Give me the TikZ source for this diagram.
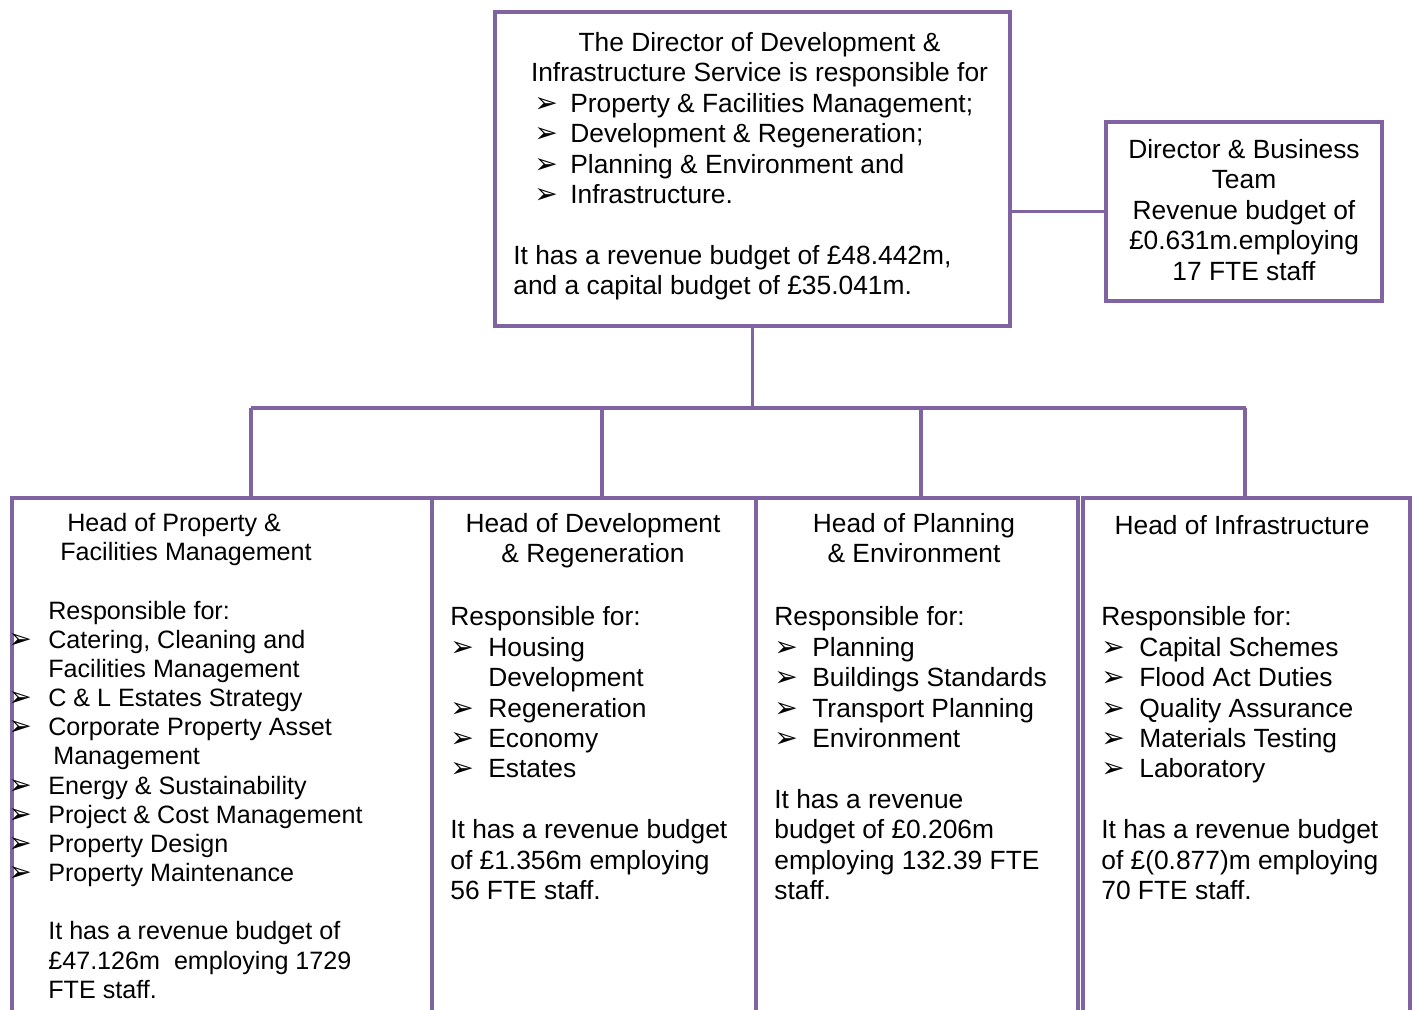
\documentclass[tikz,border=0pt]{standalone}
\usepackage{fontspec}
\setmainfont{Liberation Sans}
\newfontfamily\arrowfont{DejaVu Sans}
\usetikzlibrary{positioning,fit,calc}
\definecolor{orgPurple}{HTML}{8064A2}
\newcommand{\bul}[1][0.76cm]{\makebox[#1][l]{\arrowfont\fontsize{16}{16}\selectfont ➢}}
\tikzset{
  orgbox/.style={draw=orgPurple, line width=2.2pt, inner sep=0pt},
  orglink/.style={draw=orgPurple, line width=2pt},
  boxtext/.style={inner sep=0pt, align=left, anchor=north west,
                  font=\fontsize{15}{17.3}\selectfont, execute at begin node=\strut},
  headtext/.style={boxtext, align=center, anchor=north},
  smalltext/.style={boxtext, font=\fontsize{14.3}{16.6}\selectfont},
}

\begin{document}
\begin{tikzpicture}[x=0.02cm, y=-0.02cm]
\def\yBus{408}      % y-position of the branch line
\def\yHead{513}     % top of the head titles
\def\yBody{606.5}   % top of the head lists
\useasboundingbox (0,0) rectangle (1416,1010);
\clip (0,0) rectangle (1416,1010);

%% Director
\node[orgbox, fit={(495,12) (1010,326)}] (dir) {};
\node[headtext] (dirHead) at (759.5,32)
  {The Director of Development \&\\Infrastructure Service is responsible for};
\node[boxtext] (dirBody) at (513,93)
  {\hspace*{0.42cm}\bul[0.72cm]Property \& Facilities Management;\\
   \hspace*{0.42cm}\bul[0.72cm]Development \& Regeneration;\\
   \hspace*{0.42cm}\bul[0.72cm]Planning \& Environment and\\
   \hspace*{0.42cm}\bul[0.72cm]Infrastructure.\\[\baselineskip]
   It has a revenue budget of £48.442m,\\
   and a capital budget of £35.041m.};

%% Business team
\node[orgbox, fit={(1106,122) (1382,301)}] (biz) {};
\node[headtext] (bizText) at (1244,139)
  {Director \& Business\\Team\\Revenue budget of\\£0.631m.employing\\17 FTE staff};

%% Heads of service
\node[orgbox, fit={(12,498) (432,1040)}] (hdProp) {};
\node[orgbox, fit={(432,498) (756,1040)}] (hdDev) {};
\node[orgbox, fit={(756,498) (1078,1040)}] (hdPlan) {};
\node[orgbox, fit={(1083,498) (1410,1040)}] (hdInfra) {};

\node[smalltext] (propText) at (8,513)
  {\hspace*{1.18cm}Head of Property \&\\
   \hspace*{1.04cm}Facilities Management\\[\baselineskip]
   \hspace*{0.8cm}Responsible for:\\
   \bul[0.8cm]Catering, Cleaning and\\
   \hspace*{0.8cm}Facilities Management\\
   \bul[0.8cm]C \& L Estates Strategy\\
   \bul[0.8cm]Corporate Property Asset\\
   \hspace*{0.9cm}Management\\
   \bul[0.8cm]Energy \& Sustainability\\
   \bul[0.8cm]Project \& Cost Management\\
   \bul[0.8cm]Property Design\\
   \bul[0.8cm]Property Maintenance\\[\baselineskip]
   \hspace*{0.8cm}It has a revenue budget of\\
   \hspace*{0.8cm}£47.126m \ employing 1729\\
   \hspace*{0.8cm}FTE staff.};

\node[headtext] (devHead) at (593,\yHead) {Head of Development\\\& Regeneration};
\node[boxtext] (devText) at (450,\yBody)
  {Responsible for:\\
   \bul Housing\\
   \hspace*{0.76cm}Development\\
   \bul Regeneration\\
   \bul Economy\\
   \bul Estates\\[\baselineskip]
   It has a revenue budget\\
   of £1.356m employing\\
   56 FTE staff.};

\node[headtext] (planHead) at (914,\yHead) {Head of Planning\\\& Environment};
\node[boxtext] (planText) at (774,\yBody)
  {Responsible for:\\
   \bul Planning\\
   \bul Buildings Standards\\
   \bul Transport Planning\\
   \bul Environment\\[\baselineskip]
   It has a revenue\\
   budget of £0.206m\\
   employing 132.39 FTE\\
   staff.};

\node[headtext] (infraHead) at (1242,\yHead) {Head of Infrastructure};
\node[boxtext] (infraText) at (1101,\yBody)
  {Responsible for:\\
   \bul Capital Schemes\\
   \bul Flood Act Duties\\
   \bul Quality Assurance\\
   \bul Materials Testing\\
   \bul Laboratory\\[\baselineskip]
   It has a revenue budget\\
   of £(0.877)m employing\\
   70 FTE staff.};

%% Links
\coordinate (busL) at (251,\yBus);
\coordinate (busR) at (1246,\yBus);
\coordinate (tapProp) at (251,\yBus);
\coordinate (tapDev) at (602,\yBus);
\coordinate (tapPlan) at (921,\yBus);
\coordinate (tapInfra) at (1245,\yBus);
\draw[orglink] (dir.south) -- (dir.south |- busL);
\draw[orglink] (busL) -- (busR);
\draw[orglink] (tapProp) -- (tapProp |- hdProp.north);
\draw[orglink] (tapDev) -- (tapDev |- hdDev.north);
\draw[orglink] (tapPlan) -- (tapPlan |- hdPlan.north);
\draw[orglink] (tapInfra) -- (tapInfra |- hdInfra.north);
\draw[orglink] (biz.west -| dir.east) -- (biz.west);
\end{tikzpicture}
\end{document}
